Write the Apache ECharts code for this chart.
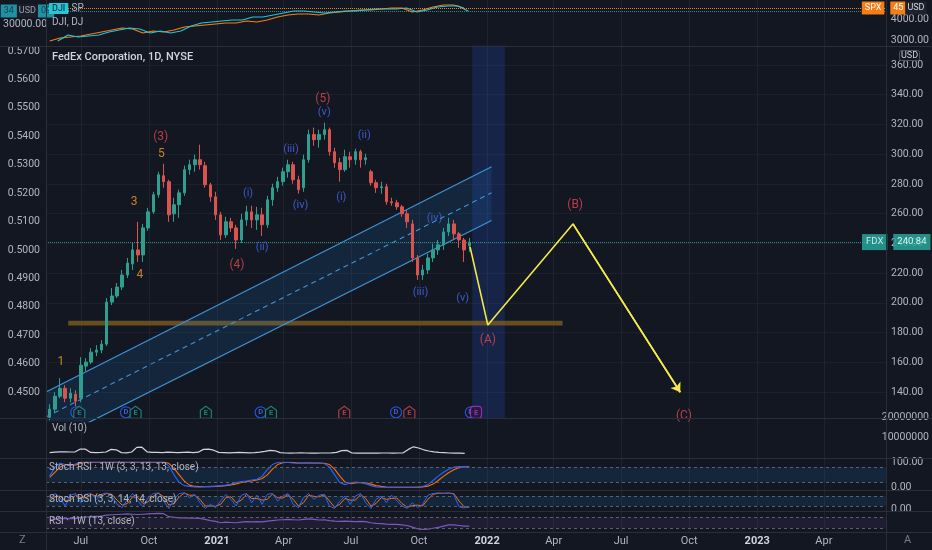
<!DOCTYPE html>
<html><head><meta charset="utf-8">
<script src="https://cdn.jsdelivr.net/npm/echarts@6/dist/echarts.min.js"></script>
<style>html,body{margin:0;padding:0;background:#131722;}#c{width:932px;height:550px;}</style>
</head><body><div id="c"></div>
<script>
// ---------- data ----------
const weeks = ['2020-05-20','2020-05-27','2020-06-03','2020-06-10','2020-06-17','2020-06-24','2020-07-01','2020-07-08','2020-07-15','2020-07-22','2020-07-29','2020-08-05','2020-08-12','2020-08-19','2020-08-26','2020-09-02','2020-09-09','2020-09-16','2020-09-23','2020-09-30','2020-10-07','2020-10-14','2020-10-21','2020-10-28','2020-11-04','2020-11-11','2020-11-18','2020-11-25','2020-12-02','2020-12-09','2020-12-16','2020-12-23','2020-12-30','2021-01-06','2021-01-13','2021-01-20','2021-01-27','2021-02-03','2021-02-10','2021-02-17','2021-02-24','2021-03-03','2021-03-10','2021-03-17','2021-03-24','2021-03-31','2021-04-07','2021-04-14','2021-04-21','2021-04-28','2021-05-05','2021-05-12','2021-05-19','2021-05-26','2021-06-02','2021-06-09','2021-06-16','2021-06-23','2021-06-30','2021-07-07','2021-07-14','2021-07-21','2021-07-28','2021-08-04','2021-08-11','2021-08-18','2021-08-25','2021-09-01','2021-09-08','2021-09-15','2021-09-22','2021-09-29','2021-10-06','2021-10-13','2021-10-20','2021-10-27','2021-11-03','2021-11-10','2021-11-17','2021-11-24','2021-12-01','2021-12-08'];
// [open, close, low, high]
const ohlc = [
[123.0,128.4,121.0,131.7],[128.4,137.1,126.4,139.8],[137.1,142.5,135.8,149.3],[142.5,135.8,133.1,144.6],[135.8,139.2,133.1,142.5],
[138.5,133.8,130.4,141.2],[135.8,158.0,133.1,163.4],[157.4,160.1,154.0,162.8],[160.1,166.8,158.7,169.5],[166.8,168.2,164.1,171.5],
[168.2,172.2,166.1,174.9],[172.2,200.5,170.9,203.2],[200.5,204.6,198.5,210.0],[204.6,210.6,203.2,213.3],[210.6,218.7,208.6,222.1],
[218.7,226.8,216.7,230.2],[226.2,235.6,222.1,240.3],[235.6,232.2,227.5,254.5],[232.2,250.4,227.5,253.1],[250.4,261.2,248.4,263.9],
[261.2,272.7,259.9,274.7],[272.7,286.2,270.7,288.2],[285.5,281.5,277.4,293.6],[281.5,259.2,254.5,282.8],[259.9,266.0,254.5,270.7],
[266.0,274.0,257.2,276.1],[274.0,289.6,272.0,292.3],[289.6,292.9,286.2,296.3],[292.9,296.3,288.2,299.7],[296.3,292.9,289.6,306.4],
[292.3,279.4,277.4,294.9],[279.4,271.3,268.0,280.8],[271.3,259.2,255.8,274.7],[259.2,245.7,242.3,261.2],[245.7,254.5,243.7,257.9],
[254.5,250.4,247.7,257.2],[250.4,242.3,236.3,252.5],[242.3,255.8,240.3,259.9],[255.8,261.2,251.8,265.3],[261.2,255.8,250.4,265.3],
[255.8,259.2,249.1,264.6],[259.2,252.5,245.0,263.9],[252.5,269.3,250.4,272.0],[269.3,277.4,265.3,280.1],[277.4,281.5,274.7,284.8],
[281.5,288.2,278.8,290.9],[288.2,292.9,284.2,296.3],[292.9,282.8,280.1,294.9],[282.8,276.1,273.4,285.5],[277.4,296.3,274.7,299.7],
[296.3,313.2,294.3,316.5],[313.2,309.8,305.7,317.9],[309.8,313.2,304.4,316.5],[313.2,316.5,309.8,321.2],[316.5,301.7,299.0,317.9],
[301.7,294.3,290.9,304.4],[294.3,289.6,281.5,297.6],[289.6,298.3,288.2,303.0],[298.3,296.3,290.9,301.7],[296.3,301.7,292.9,303.7],
[301.7,296.3,290.9,303.0],[296.3,297.6,292.9,300.3],[288.2,280.8,278.8,289.6],[280.8,277.4,274.0,282.8],[277.4,278.1,273.4,281.5],
[278.1,268.0,266.0,280.1],[268.0,267.3,265.3,270.7],[267.3,264.6,262.6,269.3],[264.6,259.9,257.9,266.0],[259.9,254.5,250.4,262.6],
[253.1,230.2,227.5,255.8],[230.2,218.7,215.4,232.2],[218.7,222.1,215.4,225.5],[222.1,230.2,219.4,232.9],[230.2,235.6,227.5,239.7],
[235.6,239.0,232.2,242.3],[239.0,247.7,235.6,250.4],[247.7,253.1,245.0,257.2],[253.1,246.4,242.3,255.8],[246.4,242.3,237.0,247.7],
[242.3,235.6,227.5,243.7],[238.3,240.8,234.3,243.7]];
const lastPrice = 240.84;

const idxDates = weeks.filter((d, i) => i % 2 === 0);
const spx = [2952,3095,3143,3190,3286,3381,3476,3571,3524,3333,3429,3381,3476,3619,3667,3714,3762,3810,3810,3905,3857,3952,4095,4190,4238,4238,4190,4286,4333,4381,4429,4429,4476,4524,4524,4333,4429,4571,4667,4667,4524];
const dji = [25504,27090,26561,26826,27090,27884,28413,28942,28678,27620,28149,27620,28149,29471,30265,30529,30794,31058,31058,31852,31852,32381,32910,33438,33438,33174,32910,33174,33438,33438,33703,33968,33968,33968,34232,33174,33703,34497,34761,34761,33438];

const volMA = [2.2e6,2.4e6,2.6e6,2.6e6,2.5e6,2.6e6,4.0e6,3.9e6,2.3e6,2.2e6,2.3e6,2.5e6,3.8e6,3.6e6,2.2e6,2.1e6,2.5e6,4.8e6,4.9e6,2.6e6,
2.3e6,2.3e6,2.2e6,2.4e6,2.3e6,2.2e6,2.3e6,2.4e6,2.2e6,2.4e6,3.8e6,3.9e6,3.4e6,2.3e6,2.2e6,2.1e6,2.2e6,2.3e6,2.2e6,2.1e6,
2.2e6,2.4e6,2.8e6,3.3e6,3.1e6,2.2e6,2.0e6,1.9e6,2.0e6,2.1e6,2.0e6,1.9e6,1.9e6,2.0e6,2.0e6,2.1e6,2.3e6,3.2e6,3.3e6,2.0e6,
1.9e6,1.9e6,2.0e6,1.9e6,1.9e6,2.0e6,2.0e6,1.9e6,2.0e6,2.1e6,3.8e6,5.1e6,4.5e6,3.6e6,3.0e6,2.6e6,2.3e6,2.2e6,2.0e6,1.9e6,
1.9e6,1.8e6];

const stochWK = [45,80,95,90,85,92,100,100,100,100,100,100,100,100,100,100,100,100,100,100,100,100,100,
85,50,20,8,5,3,3,4,5,6,8,10,14,20,24,26,30,33,45,70,90,98,100,98,96,95,96,97,96,95,94,
80,50,20,12,18,22,20,15,8,3,2,2,2,2,2,2,2,3,5,12,28,45,60,72,80,82,82,81];
const stochWD = [40,60,80,90,90,88,95,99,99,99,99,99,99,99,99,99,99,99,99,99,99,99,99,
95,75,50,25,10,5,4,4,4,5,6,8,11,15,20,24,26,30,36,50,72,90,97,99,98,96,96,96,96,96,95,
90,72,45,22,16,18,20,19,14,8,5,3,2,2,2,2,2,2,3,6,14,28,44,58,70,78,81,82];
const stochDK = [60,95,70,20,85,95,40,90,95,60,90,100,80,30,10,60,95,50,15,70,95,100,50,5,60,95,100,70,90,40,
5,30,10,50,90,60,20,85,95,40,85,30,90,95,50,80,95,30,10,70,95,60,85,90,20,5,50,80,30,80,
95,40,5,60,80,40,85,50,20,5,40,10,30,85,95,100,95,100,90,15,8,15];
const stochDD = [50,75,80,50,55,85,70,70,90,80,80,95,90,55,25,35,75,70,35,45,80,98,75,25,35,75,98,85,85,60,
20,20,18,30,70,75,40,55,90,65,65,55,60,92,70,68,88,60,20,40,85,78,75,88,50,12,30,65,55,55,
88,65,20,35,70,60,65,68,35,12,22,25,20,60,90,97,97,98,95,50,15,12];
const rsiW = [60,63,66,65,66,65,70,71,72,73,74,78,79,80,81,82,81,80,81,82,83,84,83,72,70,68,68,67,67,66,
62,58,55,50,52,51,50,52,54,53,54,53,56,58,60,61,62,61,60,62,64,62,60,61,58,56,55,56,55,54,
55,54,50,48,47,45,44,44,42,40,34,28,26,27,30,33,38,42,42,40,38,38];

// drawings
const chDates = ['2020-05-15','2022-01-07'];
const chUpper = [140.0, 291.6];
const chMid = [123.2, 274.0];
const chLower = [105.1, 255.4];
const pathDates = ['2021-12-09','2022-01-02','2022-04-27','2022-09-19'];
const pathPrices = [237.6, 185.0, 253.1, 139.8];
const zoneDates = ['2020-06-14','2022-04-13'];
const zonePrices = [184.7, 187.9];
const bandDates = ['2021-12-12','2022-01-25'];
const bandPrices = [122.3, 373.2];
const orangeWave = [['1','2020-06-04',159.9],['3','2020-09-11',267.5],['4','2020-09-19',218.7],['5','2020-10-18',300.1]];
const redWave = [['(3)','2020-10-17',311.6],['(4)','2021-01-28',225.3],['(5)','2021-05-24',337.4],['(A)','2022-01-02',174.9],['(B)','2022-04-30',265.9],['(C)','2022-09-24',123.7]];
const blueWave = [['(i)','2021-02-12',273.8],['(ii)','2021-03-03',237.4],['(iii)','2021-04-11',303.5],['(iv)','2021-04-24',265.9],['(v)','2021-05-26',328.2],
['(i)','2021-06-18',270.9],['(ii)','2021-07-19',312.5],['(iii)','2021-10-03',206.8],['(iv)','2021-10-22',257.0],['(v)','2021-11-29',202.8]];
const divDates = ['2020-06-25','2020-08-31','2021-03-01','2021-08-31','2021-12-10'];
const earnDates = ['2020-06-29','2020-09-13','2020-12-17','2021-03-15','2021-06-22','2021-09-18','2021-12-17'];
const earnKinds = ['beat','beat','beat','beat','miss','miss','next'];
const timeRange = ['2020-05-15','2023-06-24'];

// ---------- chart ----------
const T = s => { const p = s.split('-').map(Number); return new Date(p[0], p[1] - 1, p[2]).getTime(); };
const X_MIN = T(timeRange[0]), X_MAX = T(timeRange[1]);
const FONT = 'Roboto, "Noto Sans", sans-serif';
const AX = '#b2b5be';
const SEP = '#2a2e39';
const MONTHS = ['Jan','Feb','Mar','Apr','May','Jun','Jul','Aug','Sep','Oct','Nov','Dec'];
const markerLevel = 126.3;

const gridDefs = [
  {top: 0, bottom: 18},
  {top: 0, height: 61},
  {top: 0, height: 61.8},
  {top: 22.6, height: 397.8},
  {top: 35.3, height: 386.4},
  {top: 417, height: 40},
  {top: 462, height: 25.7},
  {top: 492.7, height: 16.6},
  {top: 509, height: 27.5}
];
const grid = gridDefs.map(g => Object.assign({left: 46, right: 46}, g));

const xAxis = grid.map((g, i) => i === 0 ? {
  type: 'time', gridIndex: 0, min: X_MIN, max: X_MAX, splitNumber: 12,
  axisLine: {show: false}, axisTick: {show: false},
  splitLine: {show: true, lineStyle: {color: '#1f232e', width: 1}},
  axisLabel: {
    color: AX, fontSize: 11, fontFamily: FONT, margin: 4, showMinLabel: false, showMaxLabel: false, hideOverlap: false,
    formatter: v => { const d = new Date(v); const m = d.getMonth();
      if (d.getDate() !== 1 || m % 3 !== 0) return '';
      return m === 0 ? '{yr|' + d.getFullYear() + '}' : MONTHS[m]; },
    rich: {yr: {color: '#d1d4dc', fontSize: 11, fontWeight: 'bold', fontFamily: FONT}}
  }
} : {type: 'time', gridIndex: i, min: X_MIN, max: X_MAX, show: false});

const lbl = (fmt, extra) => Object.assign({color: AX, fontSize: 10.5, fontFamily: FONT, formatter: fmt, margin: 5}, extra || {});
const baseY = {axisLine: {show: false}, axisTick: {show: false}, splitLine: {show: false}, scale: false};
const yAxis = [
  Object.assign({}, baseY, {gridIndex: 0, show: false}),
  Object.assign({}, baseY, {gridIndex: 1, position: 'right', min: 2000, max: 4904.8, interval: 1000,
    axisLabel: lbl(v => v.toFixed(2), {showMinLabel: false, showMaxLabel: false})}),
  Object.assign({}, baseY, {gridIndex: 2, position: 'left', min: 20000, max: 36348, interval: 10000,
    axisLabel: lbl(v => v.toFixed(2), {showMinLabel: false, showMaxLabel: false, margin: 7})}),
  Object.assign({}, baseY, {gridIndex: 3, position: 'left', min: 0.44, max: 0.58, interval: 0.01,
    axisLabel: lbl(v => v.toFixed(4), {showMinLabel: false, showMaxLabel: false, margin: 6})}),
  Object.assign({}, baseY, {gridIndex: 4, position: 'right', min: 120, max: 380, interval: 20,
    splitLine: {show: true, showMinLine: false, showMaxLine: false, lineStyle: {color: '#1c202a'}},
    axisLabel: lbl(v => v.toFixed(2), {showMinLabel: false, showMaxLabel: false})}),
  Object.assign({}, baseY, {gridIndex: 5, position: 'right', min: 0, max: 20000000, interval: 10000000,
    axisLabel: lbl(v => String(v), {showMinLabel: false})}),
  Object.assign({}, baseY, {gridIndex: 6, position: 'right', min: 0, max: 100, interval: 100,
    axisLabel: lbl(v => v.toFixed(2))}),
  Object.assign({}, baseY, {gridIndex: 7, position: 'right', min: 0, max: 100, interval: 100,
    axisLabel: lbl(v => v.toFixed(2), {showMaxLabel: false})}),
  Object.assign({}, baseY, {gridIndex: 8, show: false, min: 0, max: 100})
];

const ser = (gi, extra) => Object.assign({xAxisIndex: gi, yAxisIndex: gi, animation: false}, extra);
const wk = arr => weeks.map((d, i) => [T(d), arr[i]]);
const dashLines = (vals, color) => ({symbol: 'none', silent: true, label: {show: false},
  lineStyle: {color: color, type: [3, 3], width: 1}, data: vals.map(v => ({yAxis: v}))});

const labelSeries = (list, color, size) => ser(4, {
  type: 'scatter', symbolSize: 1, itemStyle: {color: 'rgba(0,0,0,0)'}, z: 12,
  data: list.map(a => ({name: a[0], value: [T(a[1]), a[2]]})),
  label: {show: true, position: 'inside', formatter: p => p.name, color: color, fontSize: size, fontFamily: FONT}
});

const earnColor = {beat: '#1f9e8b', miss: '#d24a50', next: '#b32fd0'};

const series = [
  // top comparison pane
  ser(1, {type: 'line', symbol: 'none', data: idxDates.map((d, i) => [T(d), spx[i]]),
    lineStyle: {color: '#f57f17', width: 1.2}, z: 3,
    markLine: {symbol: 'none', silent: true, lineStyle: {color: '#f57f17', type: 'dotted', width: 1},
      label: {show: true, position: 'end', distance: -24, formatter: '{a|SPX}  {b|45}{u|USD}',
        rich: {a: {backgroundColor: '#f57f17', color: '#fff', fontSize: 9, padding: [2, 3], fontFamily: FONT},
               b: {backgroundColor: '#f57f17', color: '#fff', fontSize: 9, padding: [2, 2, 2, 3], fontFamily: FONT},
               u: {backgroundColor: '#1e222d', color: '#d1d4dc', fontSize: 9, padding: [2, 2], fontFamily: FONT}}},
      data: [{yAxis: spx[spx.length - 1]}]}}),
  ser(2, {type: 'line', symbol: 'none', data: idxDates.map((d, i) => [T(d), dji[i]]),
    lineStyle: {color: '#26c6da', width: 1.2}, z: 4,
    markLine: {symbol: 'none', silent: true, lineStyle: {color: '#26c6da', type: 'dotted', width: 1, opacity: 0.7},
      label: {show: true, position: 'start', distance: 0, formatter: '{v|34}{u|USD}{v|09}',
        rich: {v: {backgroundColor: '#26c6da', color: '#131722', fontSize: 9, padding: [2, 3], fontFamily: FONT},
               u: {backgroundColor: '#1e222d', color: '#d1d4dc', fontSize: 9, padding: [2, 2], fontFamily: FONT}}},
      data: [{yAxis: dji[dji.length - 1]}]}}),
  // channel fill
  ser(4, {type: 'custom', clip: true, z: 1,
    data: [[T(chDates[0]), chUpper[0], chLower[0], T(chDates[1]), chUpper[1], chLower[1]]],
    encode: {x: [0, 3], y: [1, 2, 4, 5]},
    renderItem: (params, api) => {
      const p1 = api.coord([api.value(0), api.value(1)]);
      const p2 = api.coord([api.value(3), api.value(4)]);
      const p3 = api.coord([api.value(3), api.value(5)]);
      const p4 = api.coord([api.value(0), api.value(2)]);
      return {type: 'polygon', shape: {points: [p1, p2, p3, p4]}, style: {fill: 'rgba(33,150,243,0.12)'}};
    }}),
  ser(4, {type: 'line', symbol: 'none', z: 2, data: chDates.map((d, i) => [T(d), chUpper[i]]), lineStyle: {color: '#3d93d8', width: 1.2}}),
  ser(4, {type: 'line', symbol: 'none', z: 2, data: chDates.map((d, i) => [T(d), chMid[i]]), lineStyle: {color: '#3d93d8', width: 1.1, type: [5, 4]}}),
  ser(4, {type: 'line', symbol: 'none', z: 2, data: chDates.map((d, i) => [T(d), chLower[i]]), lineStyle: {color: '#3d93d8', width: 1.2}}),
  // candles
  ser(4, {type: 'candlestick', z: 5, barWidth: 3,
    data: weeks.map((d, i) => [T(d)].concat(ohlc[i])),
    itemStyle: {color: '#2f9e8f', color0: '#d9534f', borderColor: '#2f9e8f', borderColor0: '#d9534f', borderWidth: 1},
    markArea: {silent: true, itemStyle: {color: 'rgba(41,98,255,0.17)'},
      data: [[{xAxis: T(bandDates[0]), yAxis: bandPrices[0]}, {xAxis: T(bandDates[1]), yAxis: bandPrices[1]}]]},
    markLine: {symbol: 'none', silent: true, lineStyle: {color: '#26a69a', type: 'dotted', width: 1, opacity: 0.85},
      label: {show: true, position: 'end', distance: -24, formatter: '{a|FDX}  {b|' + lastPrice.toFixed(2) + '}',
        rich: {a: {backgroundColor: '#26a69a', color: '#e8f5f3', fontSize: 9.5, padding: [3, 4], fontFamily: FONT},
               b: {backgroundColor: '#26a69a', color: '#ffffff', fontSize: 9.5, padding: [3, 4], fontFamily: FONT}}},
      data: [{yAxis: lastPrice}]}}),
  // projected path + support zone
  ser(4, {type: 'line', symbol: 'none', z: 10, data: pathDates.map((d, i) => [T(d), pathPrices[i]]),
    lineStyle: {color: '#f5e94a', width: 1.6},
    markArea: {silent: true, itemStyle: {color: 'rgba(118,88,34,0.85)'},
      data: [[{xAxis: T(zoneDates[0]), yAxis: zonePrices[0]}, {xAxis: T(zoneDates[1]), yAxis: zonePrices[1]}]]},
    markLine: {symbol: ['none', 'arrow'], symbolSize: 9, silent: true, label: {show: false},
      lineStyle: {color: '#f5e94a', width: 1.6, type: 'solid'},
      data: [[{coord: [T(pathDates[2]), pathPrices[2]]}, {coord: [T(pathDates[3]), pathPrices[3]]}]]}}),
  labelSeries(orangeWave, '#f39c2c', 12),
  labelSeries(redWave, '#e0474f', 12),
  labelSeries(blueWave, '#4a68f0', 11),
  // dividend & earnings markers
  ser(4, {type: 'scatter', z: 11, symbol: 'circle', symbolSize: 11,
    data: divDates.map(d => [T(d), markerLevel]),
    itemStyle: {color: '#131722', borderColor: '#2962ff', borderWidth: 1.2},
    label: {show: true, position: 'inside', formatter: 'D', color: '#4a74ff', fontSize: 7.5, fontWeight: 'bold', fontFamily: FONT}}),
  ser(4, {type: 'scatter', z: 12, symbolSize: [11, 12],
    data: earnDates.map((d, i) => ({value: [T(d), markerLevel],
      symbol: earnKinds[i] === 'next' ? 'roundRect' : 'path://M5,0 L10,4 L10,12 L0,12 L0,4 Z',
      itemStyle: {color: earnKinds[i] === 'next' ? '#2a1636' : '#131722', borderColor: earnColor[earnKinds[i]], borderWidth: 1.2},
      label: {color: earnColor[earnKinds[i]]}})),
    label: {show: true, position: 'inside', formatter: 'E', fontSize: 7.5, fontWeight: 'bold', fontFamily: FONT, offset: [0, 1]}}),
  // volume MA
  ser(5, {type: 'line', symbol: 'none', data: wk(volMA), lineStyle: {color: '#d1d4dc', width: 1.2}}),
  // Stoch RSI 1W
  ser(6, {type: 'line', symbol: 'none', data: wk(stochWK), lineStyle: {color: '#2962ff', width: 1.1}, z: 4,
    markArea: {silent: true, itemStyle: {color: 'rgba(33,150,243,0.12)'}, data: [[{yAxis: 20}, {yAxis: 80}]]},
    markLine: dashLines([20, 80], '#5d606b')}),
  ser(6, {type: 'line', symbol: 'none', data: wk(stochWD), lineStyle: {color: '#ff6d00', width: 1.1}, z: 3}),
  // Stoch RSI daily
  ser(7, {type: 'line', symbol: 'none', data: wk(stochDK), lineStyle: {color: '#2962ff', width: 1}, z: 4,
    markArea: {silent: true, itemStyle: {color: 'rgba(33,150,243,0.12)'}, data: [[{yAxis: 20}, {yAxis: 80}]]},
    markLine: dashLines([20, 80], '#5d606b')}),
  ser(7, {type: 'line', symbol: 'none', data: wk(stochDD), lineStyle: {color: '#ff6d00', width: 1}, z: 3}),
  // RSI 1W
  ser(8, {type: 'line', symbol: 'none', data: wk(rsiW), lineStyle: {color: '#7e57c2', width: 1.2},
    markArea: {silent: true, itemStyle: {color: 'rgba(126,87,194,0.10)'}, data: [[{yAxis: 30}, {yAxis: 70}]]},
    markLine: dashLines([30, 70], '#5d606b')})
];

const tx = (text, left, top, style, extra) => Object.assign({text: text, left: left, top: top, padding: 0,
  textStyle: Object.assign({color: AX, fontSize: 10, fontWeight: 'normal', fontFamily: FONT}, style || {})}, extra || {});
const title = [
  tx('FedEx Corporation, 1D, NYSE', 52, 51.5, {color: '#d1d4dc', fontSize: 11, fontWeight: 500}),
  tx('DJI, DJ', 52, 17, {fontSize: 10}),
  tx('DJI', 49, 3, {color: '#131722', fontSize: 9}, {backgroundColor: '#26c6da', padding: [1, 3]}),
  tx(', SP', 67, 3, {fontSize: 10}),
  tx('USD', 899, 50, {color: '#d1d4dc', fontSize: 9}, {padding: [1, 2], borderColor: '#50535e', borderWidth: 1, borderRadius: 2, backgroundColor: '#131722'}),
  tx('Vol (10)', 52, 423, {fontSize: 10}),
  tx('Stoch RSI · 1W (3, 3, 13, 13, close)', 49, 462, {fontSize: 10}),
  tx('Stoch RSI (3, 3, 14, 14, close)', 49, 494, {fontSize: 10}),
  tx('RSI · 1W (13, close)', 49, 516, {fontSize: 10}),
  tx('Z', 19, 535, {fontSize: 11, color: '#787b86'}),
  tx('A', 904, 535, {fontSize: 11, color: '#787b86'})
];

const hLine = y => ({type: 'line', silent: true, z: 100, shape: {x1: 0, y1: y, x2: 932, y2: y}, style: {stroke: SEP, lineWidth: 1}});
const vLine = x => ({type: 'line', silent: true, z: 100, shape: {x1: x, y1: 0, x2: x, y2: 550}, style: {stroke: SEP, lineWidth: 1}});
const graphic = [46.5, 418.5, 458.5, 490.5, 511.5, 532.5].map(hLine).concat([46.5, 886.5].map(vLine));

const chart = echarts.init(document.getElementById('c'), null, {renderer: 'canvas'});
chart.setOption({
  backgroundColor: '#131722', animation: false,
  textStyle: {fontFamily: FONT},
  grid: grid, xAxis: xAxis, yAxis: yAxis, series: series, title: title, graphic: graphic
});
</script></body></html>
